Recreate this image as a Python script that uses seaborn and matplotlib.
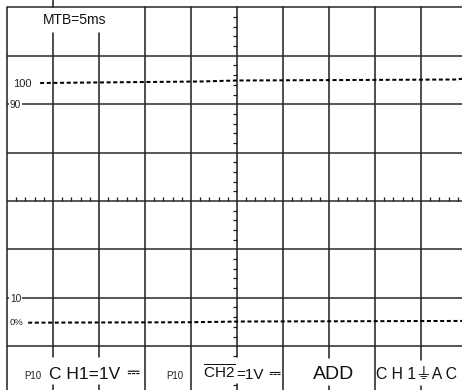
import matplotlib
matplotlib.use('Agg')
import matplotlib.pyplot as plt
import seaborn as sns

sns.set_style('white')
FAM = ['Liberation Sans', 'DejaVu Sans', 'Noto Sans CJK JP', 'Noto Sans', 'Noto Sans Symbols',
       'Noto Sans Symbols 2', 'Noto Sans Math', 'Open Sans', 'Roboto', 'Lato', 'Inter']
plt.rcParams['font.family'] = FAM
plt.rcParams['mathtext.fontset'] = 'custom'
plt.rcParams['mathtext.rm'] = 'Liberation Sans'
plt.rcParams['mathtext.it'] = 'Liberation Sans:italic'
plt.rcParams['mathtext.bf'] = 'Liberation Sans:bold'

# ---- data (in divisions of the scope graticule) ----
trace_top_x = [0.72, 4.20, 5.00, 7.46, 9.74, 9.89]
trace_top_y = [2.438, 2.469, 2.490, 2.500, 2.510, 2.525]
trace_bot_x = [0.46, 3.98, 5.07, 9.89]
trace_bot_y = [-2.514, -2.505, -2.490, -2.478]

level_labels = ["100", "90", "10", "0%"]
timebase_label = "MTB=5ms"
status_labels = ["P10", "C H1=1V", "\u2393", "P10", "=1V", "ADD", "C H 1\u23DAA C"]

# ---- layout helpers (pixel -> division) ----
PXX, PXY = 46.0, 48.4
def X(px):
    return (px - 7) / PXX
def Y(py):
    return (201 - py) / PXY

fig = plt.figure(figsize=(4.62, 3.90), dpi=100)
ax = fig.add_axes([0, 0, 1, 1])
ax.set_xlim(X(0), X(462))
ax.set_ylim(Y(390), Y(0))
ax.axis('off')

hcol, vcol = '#565656', '#1e1e1e'
for yv in [4, 3, 2, 1, 0, -1, -2, -3]:
    ax.plot([0, X(462)], [yv, yv], color=hcol, lw=1.4, solid_capstyle='butt', zorder=1)

ybot = Y(390)
ax.plot([0, 0], [4, ybot], color=vcol, lw=1.1, zorder=1)
top_gap = {1: Y(33), 2: Y(33)}
bot_gap = {1: (Y(357), Y(385)), 2: (Y(357), Y(385)), 5: (Y(357), Y(384)),
           7: (Y(358), Y(386)), 9: (Y(360), Y(386))}
for xv in range(1, 10):
    ytop = top_gap.get(xv, 4)
    if xv in bot_gap:
        g0, g1 = bot_gap[xv]
        ax.plot([xv, xv], [ytop, g0], color=vcol, lw=1.1, zorder=1)
        ax.plot([xv, xv], [g1, ybot], color=vcol, lw=1.1, zorder=1)
    else:
        ax.plot([xv, xv], [ytop, ybot], color=vcol, lw=1.1, zorder=1)
ax.plot([1, 1], [Y(0), 4], color=vcol, lw=1.1, zorder=1)

tx = [k * 0.2 for k in range(1, 50) if k % 5]
ax.vlines(tx, 0, 4 / PXY, color=vcol, lw=0.9, zorder=1)
ty = [4 - k * 0.2 for k in range(1, 41) if k % 5]
g0, g1 = bot_gap[5]
ty = [t for t in ty if not (g1 < t < g0)]
ax.hlines(ty, 5 - 4 / PXX, 5, color=vcol, lw=0.9, zorder=1)

sns.lineplot(x=trace_top_x, y=trace_top_y, ax=ax, color='black', lw=1.45, zorder=3)
sns.lineplot(x=trace_bot_x, y=trace_bot_y, ax=ax, color='black', lw=1.45, zorder=3)
for ln in ax.lines[-2:]:
    ln.set_dashes((2.0, 1.3))
    ln.set_dash_capstyle('butt')

ax.text(X(75), Y(20), timebase_label, ha='center', va='center', fontsize=10, color='#111')
wb = dict(facecolor='white', edgecolor='none', pad=0.6)
ax.text(X(22), Y(84), level_labels[0], ha='center', va='center', fontsize=8, color='#222')
ax.text(X(15.5), Y(105.5), level_labels[1], ha='center', va='center', fontsize=7.3, color='#222', bbox=wb, zorder=4)
ax.text(X(15.5), Y(299.5), level_labels[2], ha='center', va='center', fontsize=7.3, color='#222', bbox=wb, zorder=4)
ax.text(X(16.5), Y(322.5), level_labels[3], ha='center', va='center', fontsize=6.8, color='#222')

bl = Y(379)
ax.text(X(32.5), bl, status_labels[0], ha='center', va='baseline', fontsize=7, color='#222')
ax.text(X(49), bl, status_labels[1], ha='left', va='baseline', fontsize=12.5, color='#111')
ax.text(X(133), bl, status_labels[2], ha='center', va='baseline', fontsize=12, color='#111')
ax.text(X(175), bl, status_labels[3], ha='center', va='baseline', fontsize=7, color='#222')
t_ch2 = ax.text(X(203), bl, r'$\overline{\mathrm{CH2}}$', ha='left', va='baseline', fontsize=11, color='#111')
ax.annotate(status_labels[4], xy=(1, 0), xycoords=t_ch2, xytext=(0.5, 0), textcoords='offset points',
            ha='left', va='bottom', fontsize=11, color='#111')
ax.text(X(274), bl, status_labels[2], ha='center', va='baseline', fontsize=11, color='#111')
ax.text(X(334), bl, status_labels[5], ha='center', va='baseline', fontsize=14, color='#111')
ax.text(X(417), bl, status_labels[6], ha='center', va='baseline', fontsize=11.3, color='#111')

fig.savefig('out.png', dpi=100)
